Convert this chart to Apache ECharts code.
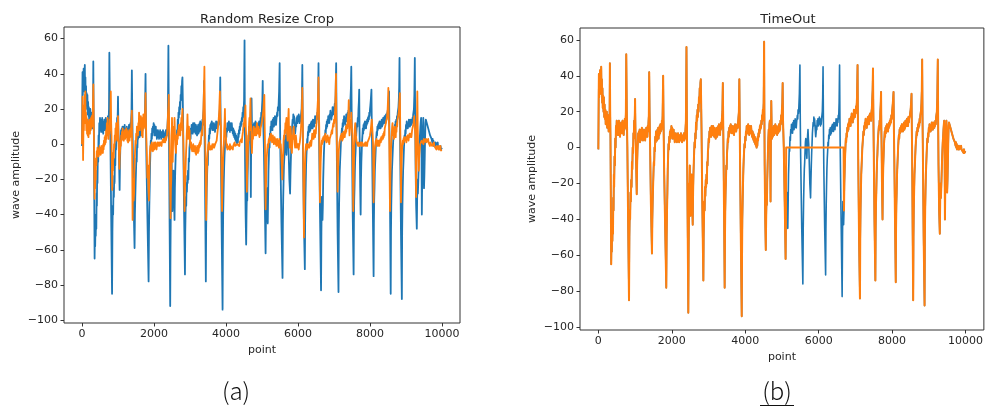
<!DOCTYPE html>
<html>
<head>
<meta charset="utf-8">
<script src="https://cdn.jsdelivr.net/npm/echarts@6/dist/echarts.min.js"></script>
<style>
html,body{margin:0;padding:0;background:#fff;}
#chart{width:986px;height:410px;}
</style>
</head>
<body>
<div id="chart"></div>
<script>
// ---- data ----
const xTicks = [0, 2000, 4000, 6000, 8000, 10000];
const yTicks = [-100, -80, -60, -40, -20, 0, 20, 40, 60];

// original ECG-like signal [point, amplitude]
const originalSignal = [
[0,-1],[10,30],[15,41],[22,28],[30,40],[38,32],[45,43],[52,30],[60,42],[68,35],[78,45],[86,30],[95,38],[104,25],[112,33],[120,22],[130,29],[140,20],[150,28],[160,17],[170,24],[180,16],[190,21],[200,13],[210,19],[220,14],[230,20],[240,11],[250,17],[260,12],[270,18],[280,9],[290,15],[300,11],[307,20],
[314,47],[322,20],[330,5],[340,-30],[350,-65],[358,-50],[366,-58],[374,-45],[382,-52],[390,-40],[398,-48],[406,-28],[414,-35],[422,-15],[430,-22],[440,-5],[450,-10],[460,5],[470,0],[480,12],[490,8],[500,15],[510,9],[520,14],[530,7],[540,13],[550,8],[560,15],[570,7],[580,12],[590,6],[600,13],[610,9],[620,14],[630,8],[640,12],[650,10],[660,15],[670,8],[680,13],[690,7],[700,14],[710,10],[720,16],[730,11],[740,14],[750,20],
[760,52],[775,20],[790,0],[810,-40],[835,-85],[845,-50],[855,-35],[865,-40],[875,-25],[885,-30],[895,-18],[905,-22],[915,-8],[925,-12],[935,0],[945,-3],[955,8],[965,5],[975,15],[985,12],[995,20],[1000,27],[1010,10],[1020,0],[1030,-10],[1045,-26],[1055,-10],[1065,-2],[1075,3],[1085,8],[1095,4],[1105,9],[1115,5],[1125,10],[1135,3],[1145,8],[1155,4],[1165,10],[1175,6],[1185,11],[1195,5],[1205,9],[1215,4],[1225,8],[1235,6],[1245,10],[1255,5],[1265,8],[1275,4],[1285,9],[1295,6],[1305,11],[1315,7],[1325,10],[1335,6],[1345,12],[1355,9],[1365,14],[1375,18],
[1385,42],[1395,20],[1410,0],[1430,-30],[1460,-59],[1470,-40],[1480,-30],[1490,-22],[1500,-15],[1510,-8],[1520,-10],[1530,0],[1540,-2],[1550,6],[1560,3],[1570,9],[1580,5],[1590,8],[1600,4],[1610,10],[1620,6],[1630,11],[1640,5],[1650,9],[1660,7],[1670,12],[1680,8],[1690,13],[1700,9],[1710,12],[1720,10],[1730,15],[1740,12],[1750,18],
[1765,40],[1775,15],[1790,-10],[1820,-45],[1850,-78],[1860,-50],[1870,-35],[1880,-25],[1890,-12],[1900,-5],[1910,2],[1920,-1],[1930,6],[1940,3],[1950,9],[1960,5],[1970,10],[1980,7],[1990,12],[2000,8],[2010,11],[2020,5],[2030,9],[2040,6],[2050,10],[2060,5],[2070,8],[2080,3],[2090,7],[2100,4],[2110,8],[2120,5],[2130,7],[2140,3],[2150,6],[2160,4],[2170,8],[2180,5],[2190,7],[2200,3],[2210,6],[2220,4],[2230,7],[2240,5],[2250,8],[2260,4],[2270,6],[2280,3],[2290,6],[2300,4],[2310,7],[2320,5],[2330,8],[2340,4],[2350,7],[2360,5],[2370,9],[2385,15],
[2400,56],[2410,20],[2420,-10],[2435,-50],[2450,-92],[2458,-60],[2466,-40],[2474,-20],[2482,-30],[2490,-10],[2500,-25],[2510,-38],[2520,-20],[2530,-28],[2540,-15],[2550,-25],[2560,-35],[2570,-43],[2580,-25],[2590,-15],[2600,-8],[2610,-2],[2620,3],[2630,0],[2640,8],[2650,5],[2660,14],[2670,10],[2680,18],[2690,15],[2700,21],[2710,17],[2720,24],[2730,20],[2740,28],[2750,25],[2760,33],[2770,30],[2780,36],[2790,38],[2800,25],[2810,10],[2830,-30],
[2860,-74],[2868,-50],[2876,-40],[2885,-30],[2895,-35],[2905,-22],[2915,-27],[2925,-18],[2935,-22],[2945,-15],[2955,-20],[2965,-8],[2975,-10],[2985,-2],[2995,0],[3005,5],[3015,3],[3025,9],[3035,6],[3045,11],[3055,7],[3065,10],[3075,6],[3085,12],[3095,8],[3105,11],[3115,7],[3125,12],[3135,8],[3145,10],[3155,6],[3165,11],[3175,7],[3185,9],[3195,5],[3205,10],[3215,7],[3225,11],[3235,6],[3245,9],[3255,7],[3265,12],[3275,8],[3285,13],[3295,9],[3305,11],[3315,7],[3325,12],[3335,10],[3345,14],[3355,11],[3365,16],[3378,20],
[3390,36],[3400,15],[3410,-5],[3425,-40],[3440,-78],[3448,-50],[3456,-35],[3465,-25],[3475,-18],[3485,-10],[3495,-12],[3505,-3],[3515,0],[3525,5],[3535,3],[3545,9],[3555,6],[3565,11],[3575,8],[3585,12],[3595,9],[3605,13],[3615,10],[3625,12],[3635,8],[3645,11],[3655,9],[3665,12],[3675,8],[3685,10],[3695,7],[3705,11],[3715,9],[3725,13],[3735,10],[3745,12],[3755,9],[3765,11],[3775,10],[3785,13],[3795,11],[3805,14],[3815,13],[3828,20],
[3840,38],[3850,15],[3860,-10],[3880,-50],[3905,-94],[3913,-60],[3921,-40],[3930,-30],[3940,-20],[3950,-12],[3960,-6],[3970,-2],[3980,2],[3990,0],[4000,6],[4010,4],[4020,9],[4030,7],[4040,12],[4050,8],[4060,11],[4070,9],[4080,13],[4090,8],[4100,11],[4110,7],[4120,12],[4130,9],[4140,11],[4150,8],[4160,12],[4170,9],[4180,10],[4190,6],[4200,9],[4210,5],[4220,8],[4230,4],[4240,7],[4250,3],[4260,6],[4270,2],[4280,5],[4290,1],[4300,4],[4310,0],[4320,3],[4330,1],[4340,6],[4350,4],[4360,8],[4370,6],[4380,10],[4390,8],[4400,12],[4410,10],[4420,13],[4430,11],[4440,15],[4450,13],[4460,18],[4470,15],[4480,21],[4490,19],[4502,25],
[4515,59],[4522,20],[4530,-10],[4545,-40],[4560,-57],[4570,-40],[4580,-28],[4590,-32],[4600,-18],[4610,-10],[4620,-2],[4630,5],[4640,10],[4650,6],[4660,13],[4670,15],[4680,0],[4690,-30],[4700,5],[4710,26],[4720,12],[4730,5],[4740,9],[4750,6],[4760,11],[4770,8],[4780,12],[4790,7],[4800,10],[4810,8],[4820,13],[4830,9],[4840,12],[4850,8],[4860,11],[4870,7],[4880,10],[4890,8],[4900,12],[4910,10],[4920,13],[4930,9],[4940,12],[4950,10],[4960,15],[4970,13],[4980,18],[4990,16],[5000,21],[5010,25],
[5020,36],[5030,15],[5050,0],[5075,-30],[5100,-62],[5110,-40],[5120,-30],[5130,-35],[5140,-25],[5150,-38],[5160,-45],[5170,-30],[5180,-15],[5190,-8],[5200,0],[5210,-2],[5220,6],[5230,4],[5240,10],[5250,8],[5260,13],[5270,9],[5280,12],[5290,8],[5300,14],[5310,11],[5320,15],[5330,10],[5340,13],[5350,11],[5360,16],[5370,12],[5380,15],[5390,11],[5400,14],[5410,13],[5420,18],[5430,16],[5440,21],[5450,19],[5460,22],[5475,30],
[5490,46],[5500,15],[5510,-5],[5540,-45],[5570,-76],[5580,-45],[5590,-30],[5600,-20],[5610,-12],[5620,-8],[5630,-2],[5640,3],[5650,5],[5660,0],[5670,-3],[5680,-6],[5690,2],[5700,7],[5710,10],[5720,5],[5730,2],[5740,-5],[5750,-12],[5760,-20],[5770,-24],[5780,-28],[5790,-18],[5800,-10],[5810,-3],[5820,2],[5830,8],[5840,11],[5850,14],[5860,12],[5870,17],[5880,14],[5890,16],[5900,13],[5910,9],[5920,6],[5930,8],[5940,12],[5950,10],[5960,15],[5970,12],[5980,16],[5990,12],[6000,15],[6010,13],[6020,17],[6030,14],[6040,16],[6050,12],[6060,15],[6070,13],[6080,16],[6090,15],[6100,20],[6110,28],
[6120,45],[6130,15],[6140,-10],[6165,-45],[6190,-71],[6198,-45],[6206,-32],[6215,-22],[6225,-12],[6235,-6],[6245,-2],[6255,3],[6265,1],[6275,7],[6285,5],[6295,10],[6305,8],[6315,11],[6325,7],[6335,10],[6345,8],[6355,12],[6365,9],[6375,13],[6385,10],[6395,12],[6405,9],[6415,14],[6425,11],[6435,13],[6445,10],[6455,14],[6465,12],[6475,16],[6485,13],[6495,15],[6505,12],[6515,16],[6525,14],[6535,18],[6545,16],[6558,25],
[6570,46],[6580,15],[6590,-5],[6615,-45],[6640,-83],[6650,-50],[6660,-30],[6670,-38],[6680,-43],[6690,-35],[6700,-20],[6710,-12],[6720,-5],[6730,0],[6740,5],[6750,3],[6760,8],[6770,6],[6780,11],[6790,9],[6800,13],[6810,10],[6820,14],[6830,12],[6840,16],[6850,13],[6860,15],[6870,12],[6880,17],[6890,15],[6900,19],[6910,15],[6920,17],[6930,14],[6940,18],[6950,16],[6960,21],[6970,18],[6980,20],[6990,17],[7000,21],[7010,19],[7020,23],[7030,21],[7045,28],
[7060,46],[7070,15],[7080,-10],[7100,-50],[7125,-84],[7133,-50],[7141,-35],[7150,-25],[7160,-15],[7170,-10],[7180,-5],[7190,0],[7200,3],[7210,6],[7220,9],[7230,7],[7240,12],[7250,10],[7260,14],[7270,12],[7280,16],[7290,12],[7300,14],[7310,11],[7320,15],[7330,13],[7340,17],[7350,14],[7360,16],[7370,13],[7380,18],[7390,15],[7400,19],[7410,16],[7420,18],[7430,15],[7440,20],[7450,22],[7460,27],[7470,32],
[7480,44],[7490,20],[7500,0],[7520,-40],[7545,-74],[7553,-45],[7561,-32],[7570,-25],[7580,-15],[7590,-8],[7600,-4],[7610,2],[7620,6],[7630,9],[7640,12],[7650,10],[7660,15],[7670,13],[7680,20],[7690,24],
[7700,31],[7708,10],[7715,0],[7728,-25],[7740,-40],[7750,-20],[7760,-10],[7770,-4],[7780,2],[7790,5],[7800,9],[7810,6],[7820,11],[7830,8],[7840,12],[7850,9],[7860,13],[7870,10],[7880,12],[7890,9],[7900,13],[7910,11],[7920,14],[7930,12],[7940,15],[7950,13],[7960,16],[7970,14],[7980,18],[7990,16],[8000,20],[8010,22],[8025,26],
[8040,31],[8050,10],[8060,-5],[8080,-40],[8100,-75],[8108,-45],[8116,-32],[8125,-25],[8135,-15],[8145,-10],[8155,-5],[8165,0],[8175,4],[8185,7],[8195,5],[8205,10],[8215,8],[8225,11],[8235,9],[8245,12],[8255,9],[8265,13],[8275,10],[8285,12],[8295,9],[8305,13],[8315,11],[8325,14],[8335,10],[8345,13],[8355,11],[8365,15],[8375,12],[8385,14],[8395,12],[8405,16],[8415,13],[8425,15],[8435,12],[8445,17],[8455,14],[8465,16],[8475,15],[8485,18],[8495,17],[8505,21],[8515,24],
[8530,30],[8538,10],[8545,0],[8560,-45],[8575,-85],[8583,-50],[8591,-35],[8600,-25],[8610,-15],[8620,-10],[8630,-5],[8640,0],[8650,4],[8660,6],[8670,9],[8680,7],[8690,11],[8700,9],[8710,13],[8720,11],[8730,14],[8740,12],[8750,16],[8760,14],[8770,18],[8780,17],[8790,21],[8800,25],[8810,32],
[8820,49],[8830,15],[8840,-5],[8860,-50],[8885,-88],[8893,-50],[8901,-35],[8910,-25],[8920,-15],[8930,-10],[8940,-4],[8950,1],[8960,5],[8970,3],[8980,8],[8990,6],[9000,11],[9010,9],[9020,13],[9030,10],[9040,12],[9050,9],[9060,12],[9070,10],[9080,14],[9090,11],[9100,13],[9110,10],[9120,14],[9130,11],[9140,13],[9150,11],[9160,14],[9170,12],[9180,15],[9190,13],[9200,17],[9210,16],[9220,20],[9232,28],
[9245,49],[9255,15],[9265,-10],[9282,-35],[9300,-48],[9310,-30],[9320,-20],[9330,-28],[9340,-22],[9350,-15],[9360,-8],[9370,-2],[9380,3],[9390,6],[9400,10],[9410,13],[9420,15],[9430,0],[9440,-40],[9450,-20],[9460,-5],[9470,8],[9480,15],[9490,0],[9500,-25],[9510,-18],[9520,-8],[9530,3],[9540,12],[9550,14],[9560,15],[9570,13],[9580,14],[9590,11],[9600,12],[9610,10],[9620,11],[9630,8],[9640,9],[9650,7],[9660,8],[9670,5],[9680,6],[9690,4],[9700,5],[9710,3],[9720,4],[9730,1],[9740,3],[9750,0],[9760,2],[9770,-1],[9780,1],[9790,0],[9800,1],[9810,-1],[9820,1],[9830,-1],[9840,0],[9850,-2],[9860,0],[9870,-1],[9880,1],[9890,-1],[9900,0],[9910,-2],[9920,0],[9930,-2],[9940,-1],[9950,-3],[9960,-1],[9970,-3],[9980,-2],[9990,-4],[9999,-2]
];

// randomly resized crop of the signal [point, amplitude]
const resizedCrop = [
[0,0],[8,15],[15,27],[22,10],[30,-9],[38,5],[45,18],[52,8],[60,22],[68,12],[76,28],[84,15],[92,30],[100,12],[110,18],[120,8],[130,15],[140,6],[150,14],[160,5],[170,12],[180,4],[190,13],[200,7],[210,14],[220,6],[230,12],[240,8],[250,15],[260,9],[270,16],[280,10],[290,14],[300,18],[307,25],
[315,34],[325,15],[335,0],[342,-20],[350,-31],[358,-15],[366,-25],[374,-12],[382,-20],[390,-8],[400,-12],[410,-4],[420,-7],[430,-2],[440,-6],[450,-3],[460,-7],[470,-4],[480,-6],[490,-1],[500,-5],[510,-2],[520,-6],[530,-3],[540,-5],[550,-1],[560,-4],[570,-2],[580,-5],[590,0],[600,-3],[610,2],[620,-1],[630,4],[640,0],[650,5],[660,1],[670,8],[680,3],[690,12],[700,6],[710,15],[720,5],[730,9],[740,3],[750,10],[760,6],[770,14],[780,8],[790,18],
[800,30],[810,12],[820,5],[830,-12],[840,-26],[850,-12],[860,-15],[870,-5],[880,-8],[890,0],[900,-2],[910,5],[920,2],[930,9],[940,6],[950,12],[960,3],[970,7],[980,2],[990,10],[1000,16],[1010,5],[1020,0],[1030,-8],[1040,-14],[1050,-6],[1060,-3],[1070,2],[1080,-1],[1090,5],[1100,2],[1110,7],[1120,4],[1130,9],[1140,3],[1150,6],[1160,2],[1170,7],[1180,4],[1190,8],[1200,3],[1210,7],[1220,4],[1230,9],[1240,5],[1250,8],[1260,2],[1270,5],[1280,1],[1290,7],[1300,3],[1310,8],[1320,2],[1330,6],[1340,4],[1350,9],[1360,6],[1370,12],
[1385,19],[1395,-10],[1405,-43],[1415,-25],[1425,-20],[1435,-32],[1445,-28],[1455,-15],[1465,-10],[1475,-3],[1485,2],[1495,0],[1505,6],[1515,3],[1525,10],[1535,6],[1545,9],[1555,5],[1565,12],[1575,9],[1585,18],[1595,12],[1605,8],[1615,14],[1625,10],[1635,16],[1645,11],[1655,15],[1665,5],[1675,10],[1685,4],[1695,12],[1705,17],[1715,9],[1725,14],[1735,10],[1745,16],[1755,20],
[1765,29],[1775,15],[1785,5],[1800,-5],[1815,-19],[1830,-12],[1845,-25],[1860,-32],[1870,-15],[1880,-8],[1890,-3],[1900,-1],[1910,-4],[1920,0],[1930,-2],[1940,1],[1950,-3],[1960,-1],[1970,-4],[1980,0],[1990,-2],[2000,1],[2010,-3],[2020,-1],[2030,-2],[2040,1],[2050,-1],[2060,0],[2070,-3],[2080,-1],[2090,-2],[2100,1],[2110,-1],[2120,0],[2130,-2],[2140,1],[2150,-1],[2160,0],[2170,-2],[2180,1],[2190,0],[2200,2],[2210,-1],[2220,1],[2230,0],[2240,2],[2250,0],[2260,3],[2270,1],[2280,2],[2290,0],[2300,3],[2310,1],[2320,4],[2330,2],[2340,3],[2350,1],[2360,5],[2370,8],[2380,12],[2390,18],[2400,22],
[2410,28],[2420,10],[2430,5],[2445,-20],[2460,-42],[2470,-25],[2480,-20],[2490,0],[2500,15],[2510,2],[2520,-10],[2530,0],[2540,5],[2550,10],[2560,3],[2570,15],[2580,8],[2590,0],[2600,-3],[2610,-5],[2620,2],[2630,5],[2640,0],[2650,6],[2660,3],[2670,8],[2680,5],[2690,11],[2700,12],[2710,6],[2720,9],[2730,5],[2740,12],[2750,8],[2760,15],[2770,10],[2780,17],[2790,20],[2800,12],[2810,5],[2820,-5],[2835,-20],[2850,-38],[2860,-25],[2870,-20],[2880,-12],[2890,-5],[2900,0],[2910,6],[2920,10],[2930,17],[2940,8],[2950,3],[2960,5],[2970,10],[2980,4],[2990,8],[3000,2],[3010,0],[3020,-2],[3030,1],[3040,-3],[3050,-1],[3060,-4],[3070,-2],[3080,-3],[3090,0],[3100,-4],[3110,-5],[3120,-2],[3130,-4],[3140,-1],[3150,-5],[3160,-3],[3170,-6],[3180,-2],[3190,-4],[3200,-1],[3210,-3],[3220,-5],[3230,-2],[3240,-4],[3250,0],[3260,-2],[3270,1],[3280,-1],[3290,2],[3300,0],[3310,4],[3320,3],[3330,8],[3340,5],[3350,10],[3360,12],[3370,18],[3380,25],[3390,32],
[3400,44],[3410,20],[3420,10],[3435,-20],[3450,-43],[3460,-25],[3470,-15],[3480,-8],[3490,-5],[3500,-3],[3510,0],[3520,-2],[3530,1],[3540,-1],[3550,-3],[3560,-1],[3570,-3],[3580,-2],[3590,-4],[3600,-1],[3610,-3],[3620,0],[3630,-2],[3640,-1],[3650,-3],[3660,0],[3670,-2],[3680,-1],[3690,-3],[3700,0],[3710,-1],[3720,1],[3730,-1],[3740,2],[3750,3],[3760,6],[3770,5],[3780,10],[3790,12],[3800,15],[3810,18],[3820,24],
[3830,30],[3845,15],[3860,10],[3875,-15],[3890,-38],[3900,-25],[3910,-15],[3920,-8],[3930,-2],[3940,0],[3950,8],[3960,12],[3970,20],[3980,8],[3990,5],[4000,3],[4010,0],[4020,-2],[4030,0],[4040,-3],[4050,-1],[4060,-2],[4070,0],[4080,-2],[4090,-1],[4100,-3],[4110,0],[4120,-3],[4130,-1],[4140,-2],[4150,0],[4160,-2],[4170,-1],[4180,0],[4190,-3],[4200,-1],[4210,-2],[4220,0],[4230,-1],[4240,1],[4250,-1],[4260,0],[4270,-2],[4280,0],[4290,-1],[4300,-2],[4310,0],[4320,-1],[4330,1],[4340,-1],[4350,0],[4360,1],[4370,-1],[4380,1],[4390,0],[4400,2],[4410,0],[4420,1],[4430,3],[4440,1],[4450,4],[4460,3],[4470,7],[4480,8],[4490,12],[4500,10],[4510,15],[4520,12],[4530,18],
[4540,22],[4550,10],[4560,5],[4570,-10],[4580,-27],[4590,-15],[4600,-10],[4610,-2],[4620,5],[4630,2],[4640,10],[4650,15],[4660,8],[4670,18],[4680,26],[4690,12],[4700,10],[4710,0],[4720,-5],[4730,2],[4740,5],[4750,3],[4760,8],[4770,10],[4780,6],[4790,8],[4800,5],[4810,9],[4820,6],[4830,8],[4840,5],[4850,10],[4860,12],[4870,7],[4880,9],[4890,6],[4900,10],[4910,7],[4920,8],[4930,4],[4940,7],[4950,5],[4960,9],[4970,8],[4980,10],[4990,9],[5000,13],[5010,15],[5020,14],[5030,18],[5040,20],[5050,24],
[5065,28],[5075,10],[5080,5],[5090,-15],[5100,-37],[5110,-25],[5120,-15],[5130,-8],[5140,-5],[5150,-2],[5160,0],[5170,-2],[5180,1],[5190,3],[5200,1],[5210,4],[5220,2],[5230,5],[5240,3],[5250,6],[5260,2],[5270,4],[5280,1],[5290,3],[5300,5],[5310,2],[5320,4],[5330,0],[5340,2],[5350,4],[5360,1],[5370,3],[5380,0],[5390,2],[5400,-1],[5410,1],[5420,3],[5430,0],[5440,2],[5450,-1],[5460,1],[5470,-2],[5480,3],[5490,0],[5500,2],[5510,-2],[5520,0],[5530,-3],[5540,-8],[5550,-12],[5565,-20],[5575,-10],[5590,-5],[5600,2],[5610,5],[5620,3],[5630,8],[5640,6],[5650,12],[5660,8],[5670,13],[5680,15],[5690,10],[5700,5],[5710,2],[5720,10],[5730,15],[5740,20],[5750,8],[5760,3],[5770,-2],[5780,5],[5790,10],[5800,8],[5810,3],[5820,-3],[5830,-5],[5840,0],[5850,5],[5860,3],[5870,8],[5880,10],[5890,6],[5900,3],[5910,0],[5920,-2],[5930,2],[5940,5],[5950,3],[5960,0],[5970,-2],[5980,-3],[5990,0],[6000,-2],[6010,0],[6020,-3],[6030,-1],[6040,-2],[6050,1],[6060,3],[6070,5],[6080,8],[6090,12],[6100,15],[6110,22],
[6120,32],[6130,15],[6140,5],[6150,-20],[6165,-53],[6175,-35],[6185,-20],[6195,-12],[6205,-5],[6215,-2],[6225,0],[6235,-3],[6245,-1],[6255,-3],[6265,0],[6275,-2],[6285,-1],[6295,-3],[6305,0],[6315,-2],[6325,1],[6335,-1],[6345,0],[6355,2],[6365,-1],[6375,1],[6385,3],[6395,6],[6405,3],[6415,2],[6425,5],[6435,3],[6445,8],[6455,5],[6465,7],[6475,4],[6485,8],[6495,6],[6505,10],[6515,12],[6525,15],[6535,18],[6545,22],[6555,26],
[6570,38],[6580,20],[6590,10],[6600,-10],[6610,-33],[6620,-20],[6630,-10],[6640,-5],[6650,0],[6660,2],[6670,0],[6680,3],[6690,1],[6700,4],[6710,2],[6720,3],[6730,1],[6740,5],[6750,3],[6760,6],[6770,2],[6780,4],[6790,1],[6800,3],[6810,2],[6820,5],[6830,2],[6840,4],[6850,1],[6860,3],[6870,0],[6880,3],[6890,2],[6900,4],[6910,3],[6920,6],[6930,5],[6940,8],[6950,6],[6960,9],[6970,8],[6980,12],[6990,10],[7000,14],[7010,12],[7020,15],[7030,18],[7040,25],
[7055,40],[7065,15],[7075,5],[7088,-10],[7100,-27],[7110,-18],[7120,-10],[7130,-4],[7140,-2],[7150,1],[7160,0],[7170,3],[7180,2],[7190,5],[7200,3],[7210,6],[7220,4],[7230,2],[7240,5],[7250,3],[7260,7],[7270,8],[7280,5],[7290,7],[7300,4],[7310,8],[7320,6],[7330,10],[7340,7],[7350,11],[7360,12],[7370,9],[7380,14],[7390,15],[7400,18],[7410,25],[7420,12],[7430,5],[7440,8],[7450,10],[7460,14],[7470,12],[7480,18],[7490,12],[7500,8],[7510,5],[7520,-10],[7535,-38],[7545,-25],[7555,-10],[7565,0],[7575,8],[7590,12],[7600,8],[7610,5],[7620,3],[7630,1],[7640,2],[7650,0],[7660,2],[7670,-1],[7680,1],[7690,0],[7700,2],[7710,-1],[7720,0],[7730,-2],[7740,1],[7750,0],[7760,2],[7770,-1],[7780,1],[7790,0],[7800,2],[7810,0],[7820,1],[7830,-1],[7840,0],[7850,-2],[7860,0],[7870,1],[7880,-1],[7890,1],[7900,0],[7910,2],[7920,-1],[7930,1],[7940,0],[7950,2],[7960,1],[7970,3],[7980,2],[7990,4],[8000,5],[8010,6],[8020,8],[8030,10],[8040,12],[8050,14],
[8065,15],[8075,5],[8085,0],[8092,-15],[8100,-33],[8110,-20],[8120,-10],[8130,-4],[8140,-1],[8150,0],[8160,2],[8170,0],[8180,3],[8190,1],[8200,-1],[8210,1],[8220,-1],[8230,2],[8240,0],[8250,2],[8260,-1],[8270,1],[8280,0],[8290,3],[8300,1],[8310,4],[8320,2],[8330,3],[8340,1],[8350,5],[8360,3],[8370,6],[8380,4],[8390,7],[8400,5],[8410,9],[8420,8],[8430,11],[8440,10],[8450,13],[8460,12],[8470,15],[8480,16],[8490,20],[8500,25],
[8510,32],[8520,15],[8530,10],[8542,-10],[8555,-38],[8565,-20],[8575,-10],[8585,-2],[8595,3],[8605,6],[8615,10],[8625,12],[8635,8],[8645,5],[8655,8],[8665,3],[8675,7],[8685,10],[8695,6],[8705,8],[8715,4],[8725,9],[8735,7],[8745,12],[8755,10],[8765,14],[8775,13],[8785,16],[8795,18],[8805,20],[8815,24],
[8830,29],[8840,10],[8848,0],[8855,-15],[8860,-33],[8870,-18],[8880,-10],[8890,-3],[8900,0],[8910,2],[8920,0],[8930,3],[8940,1],[8950,4],[8960,2],[8970,1],[8980,3],[8990,2],[9000,4],[9010,1],[9020,3],[9030,2],[9040,5],[9050,3],[9060,5],[9070,2],[9080,4],[9090,3],[9100,6],[9110,4],[9120,6],[9130,5],[9140,7],[9150,4],[9160,6],[9170,8],[9180,9],[9190,10],[9200,11],[9210,12],[9220,14],[9230,16],[9240,15],[9250,8],[9260,5],[9270,-10],[9280,-30],[9290,-10],[9300,10],[9308,20],
[9315,30],[9325,10],[9335,0],[9345,-8],[9355,-15],[9365,-8],[9375,-5],[9385,-2],[9395,0],[9405,-1],[9415,1],[9425,0],[9435,2],[9445,1],[9455,3],[9465,1],[9475,2],[9485,0],[9495,3],[9505,1],[9515,2],[9525,0],[9535,2],[9545,1],[9555,3],[9565,1],[9575,2],[9585,0],[9595,2],[9605,1],[9615,3],[9625,1],[9635,2],[9645,0],[9655,1],[9665,-1],[9675,1],[9685,0],[9695,2],[9705,0],[9715,1],[9725,-1],[9735,0],[9745,-2],[9755,0],[9765,-1],[9775,1],[9785,-1],[9795,0],[9805,-2],[9815,0],[9825,-2],[9835,-1],[9845,-3],[9855,-1],[9865,-2],[9875,0],[9885,-2],[9895,-1],[9905,-3],[9915,-1],[9925,-2],[9935,0],[9945,-3],[9955,-1],[9965,-3],[9975,-2],[9985,-4],[9999,-3]
];

// TimeOut: the signal is replaced by a constant inside this window
const timeoutWindow = [5115, 6680];
const timeoutValue = 0;

// ---- build the TimeOut series from the signal ----
const timeoutSignal = [];
originalSignal.forEach(function (p) { if (p[0] < timeoutWindow[0]) timeoutSignal.push(p); });
timeoutSignal.push([timeoutWindow[0], timeoutValue], [timeoutWindow[1], timeoutValue]);
originalSignal.forEach(function (p) { if (p[0] > timeoutWindow[1]) timeoutSignal.push(p); });

const BLUE = '#1f77b4', ORANGE = '#ff7f0e';
const FONT = 'DejaVu Sans';
const TXT = '#262626';

function xAxisCfg(gi) {
  return {
    type: 'value', gridIndex: gi, min: -500, max: 10500,
    name: 'point', nameLocation: 'middle', nameGap: 21,
    nameTextStyle: { fontFamily: FONT, fontSize: 11, color: TXT },
    axisLine: { show: false, onZero: false },
    axisTick: { show: true, customValues: xTicks, length: 3.5, lineStyle: { color: '#333' } },
    axisLabel: { show: true, customValues: xTicks, margin: 6, fontFamily: FONT, fontSize: 11, color: TXT,
      formatter: function (v) { return String(v); } },
    splitLine: { show: false }
  };
}
function yAxisCfg(gi) {
  return {
    type: 'value', gridIndex: gi, min: -101.6, max: 66.6,
    name: 'wave amplitude', nameLocation: 'middle', nameGap: 42,
    nameTextStyle: { fontFamily: FONT, fontSize: 11, color: TXT },
    axisLine: { show: false, onZero: false },
    axisTick: { show: true, customValues: yTicks, length: 3.5, lineStyle: { color: '#333' } },
    axisLabel: { show: true, customValues: yTicks, margin: 6, fontFamily: FONT, fontSize: 11, color: TXT,
      formatter: function (v) { return String(v).replace('-', '\u2212'); } },
    splitLine: { show: false }
  };
}
function lineSeries(data, color, gi, width) {
  return {
    type: 'line', data: data, xAxisIndex: gi, yAxisIndex: gi,
    showSymbol: false, symbol: 'none', smooth: false, sampling: null,
    lineStyle: { color: color, width: width, join: 'round' }, itemStyle: { color: color },
    emphasis: { disabled: true }, silent: true
  };
}

const chart = echarts.init(document.getElementById('chart'), null, { renderer: 'canvas' });
chart.setOption({
  animation: false,
  backgroundColor: '#fff',
  title: [
    { text: 'Random Resize Crop', left: 262, top: 8, textAlign: 'center',
      textStyle: { fontFamily: FONT, fontSize: 13, fontWeight: 'normal', color: TXT } },
    { text: 'TimeOut', left: 783, top: 8, textAlign: 'center',
      textStyle: { fontFamily: FONT, fontSize: 13, fontWeight: 'normal', color: TXT } }
  ],
  grid: [
    { left: 64, top: 27, width: 396, height: 296, show: true, borderColor: '#333', borderWidth: 1, backgroundColor: 'transparent' },
    { left: 580, top: 28, width: 405, height: 302, show: true, borderColor: '#333', borderWidth: 1, backgroundColor: 'transparent' }
  ],
  xAxis: [xAxisCfg(0), xAxisCfg(1)],
  yAxis: [yAxisCfg(0), yAxisCfg(1)],
  series: [
    lineSeries(originalSignal, BLUE, 0, 1.8),
    lineSeries(resizedCrop, ORANGE, 0, 1.8),
    lineSeries(originalSignal, BLUE, 1, 1.6),
    lineSeries(timeoutSignal, ORANGE, 1, 2.0)
  ],
  graphic: [
    { type: 'text', x: 236, y: 391, style: { text: '(a)', fontFamily: 'Noto Sans CJK SC', fontWeight: 300, fontSize: 24, fill: '#111', align: 'center', verticalAlign: 'middle' } },
    { type: 'text', x: 777, y: 391, style: { text: '(b)', fontFamily: 'Noto Sans CJK SC', fontWeight: 300, fontSize: 24, fill: '#111', align: 'center', verticalAlign: 'middle' } },
    { type: 'line', shape: { x1: 760, y1: 405.5, x2: 794, y2: 405.5 }, style: { stroke: '#111', lineWidth: 1.2 } }
  ]
});
</script>
</body>
</html>
